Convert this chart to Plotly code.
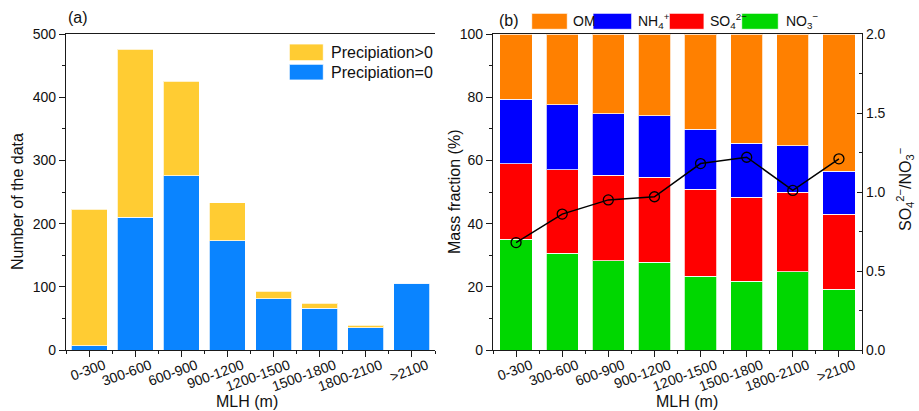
import numpy as np
import plotly.graph_objects as go

# ---------------- data ----------------
categories = ["0-300", "300-600", "600-900", "900-1200", "1200-1500", "1500-1800", "1800-2100", ">2100"]

# panel (a): number of data
count_precip_zero = [7, 210, 276, 173, 81, 66, 35, 106]
count_precip_pos = [216, 266, 149, 60, 12, 8, 4, 0]

# panel (b): mass fraction (%)
frac_no3 = [35.0, 30.6, 28.2, 27.7, 23.3, 21.8, 24.8, 19.3]
frac_so4 = [24.0, 26.4, 27.1, 26.9, 27.5, 26.5, 25.1, 23.7]
frac_nh4 = [20.4, 20.6, 19.5, 19.5, 19.0, 17.1, 14.8, 13.5]
frac_om = [20.6, 22.4, 25.2, 25.9, 30.2, 34.6, 35.3, 43.5]
ratio_so4_no3 = [0.68, 0.86, 0.95, 0.97, 1.18, 1.22, 1.01, 1.21]

yticks_a = [0, 100, 200, 300, 400, 500]
yticks_b = [0, 20, 40, 60, 80, 100]
yticks_b2 = [0.0, 0.5, 1.0, 1.5, 2.0]

# ---------------- style ----------------
W, H = 919, 411
FONT = "Liberation Sans, Arial, sans-serif"
AX = "#1a1a1a"
C_YEL = "#FFCC33"
C_LBLUE = "#0A84FF"
C_OM = "#FF8000"
C_NH4 = "#0000FF"
C_SO4 = "#FF0000"
C_NO3 = "#00D700"
OUTLINE = dict(color="rgba(255,255,255,0.75)", width=1)

pos = np.arange(len(categories))
bounds = np.arange(len(categories) + 1) - 0.5


def px_x(x):
    return x / W


def px_y(y):
    return 1 - y / H


xa_dom = [px_x(66), px_x(435)]
xb_dom = [px_x(493), px_x(862)]
y_dom = [px_y(350), px_y(34)]

fig = go.Figure()

# panel (a)
fig.add_trace(go.Bar(x=pos, y=count_precip_zero, name="Precipiation=0", marker=dict(color=C_LBLUE, line=OUTLINE),
                     width=0.78, xaxis="x", yaxis="y", showlegend=False))
fig.add_trace(go.Bar(x=pos, y=count_precip_pos, name="Precipiation>0", marker=dict(color=C_YEL, line=OUTLINE),
                     width=0.78, xaxis="x", yaxis="y", showlegend=False))

# panel (b)
for vals, nm, col in [(frac_no3, "NO3-", C_NO3), (frac_so4, "SO42-", C_SO4),
                      (frac_nh4, "NH4+", C_NH4), (frac_om, "OM", C_OM)]:
    fig.add_trace(go.Bar(x=pos, y=vals, name=nm, marker=dict(color=col, line=OUTLINE),
                         width=0.7, xaxis="x2", yaxis="y2", showlegend=False))

fig.add_trace(go.Scatter(x=pos, y=ratio_so4_no3, mode="lines+markers", name="SO42-/NO3-",
                         line=dict(color="black", width=1.5),
                         marker=dict(symbol="circle-open", size=10, color="black", line=dict(width=1.3)),
                         xaxis="x2", yaxis="y4", showlegend=False))

tickfont = dict(family=FONT, size=14, color="#111")
titlefont = dict(family=FONT, size=16, color="#111")

xcommon = dict(range=[-0.5, 7.5], tickmode="array", tickvals=pos, ticktext=categories, tickangle=-20,
               ticklabelshift=15, ticklabelstandoff=-5,
               ticks="outside", ticklen=6, tickwidth=1.3, tickcolor=AX, showline=True, linecolor=AX,
               linewidth=1.3, mirror=True, showgrid=False, zeroline=False, tickfont=tickfont, automargin=False,
               minor=dict(tickmode="array", tickvals=bounds, ticks="outside", ticklen=3, tickcolor=AX, tickwidth=1.3))

ycommon = dict(ticks="outside", ticklen=6, tickwidth=1.3, tickcolor=AX, showline=True, linecolor=AX,
               linewidth=1.3, showgrid=False, zeroline=False, tickfont=tickfont, automargin=False)
yright = dict(ticks="inside", ticklen=5, tickwidth=1.3, tickcolor=AX, showline=True, linecolor=AX,
              linewidth=1.3, showgrid=False, zeroline=False, automargin=False)

fig.update_layout(
    template="none",
    width=W, height=H, margin=dict(l=0, r=0, t=0, b=0, pad=0), autosize=False,
    paper_bgcolor="white", plot_bgcolor="white",
    barmode="stack", showlegend=False,
    font=dict(family=FONT, color="#111"),
    xaxis=dict(domain=xa_dom, anchor="y", **xcommon),
    xaxis2=dict(domain=xb_dom, anchor="y2", **xcommon),
    yaxis=dict(domain=y_dom, anchor="x", range=[0, 500], tickmode="array", tickvals=yticks_a,
               minor=dict(dtick=50, ticks="outside", ticklen=3, tickcolor=AX, tickwidth=1.3), **ycommon),
    yaxis3=dict(overlaying="y", anchor="x", side="right", range=[0, 500], tickmode="array", tickvals=yticks_a,
                showticklabels=False,
                minor=dict(dtick=50, ticks="inside", ticklen=3, tickcolor=AX, tickwidth=1.3), **yright),
    yaxis2=dict(domain=y_dom, anchor="x2", range=[0, 100], tickmode="array", tickvals=yticks_b,
                minor=dict(dtick=10, ticks="outside", ticklen=3, tickcolor=AX, tickwidth=1.3), **ycommon),
    yaxis4=dict(overlaying="y2", anchor="x2", side="right", range=[0, 2], tickmode="array", tickvals=yticks_b2,
                ticktext=[f"{v:.1f}" for v in yticks_b2], tickfont=tickfont,
                minor=dict(dtick=0.25, ticks="inside", ticklen=3, tickcolor=AX, tickwidth=1.3), **yright),
)

shapes = []
annotations = []


def label(text, x, y, font, angle=0, xanchor="center"):
    annotations.append(dict(text=text, x=px_x(x), y=px_y(y), xref="paper", yref="paper", textangle=angle,
                            xanchor=xanchor, yanchor="middle", showarrow=False, font=font))


# axis titles
label("MLH (m)", 247, 401, titlefont)
label("MLH (m)", 687, 401, titlefont)
label("Number of the data", 17, 202, titlefont, angle=-90)
label("Mass fraction (%)", 454, 192, titlefont, angle=-90)
label("SO<sub>4</sub><sup>2−</sup>/NO<sub>3</sub><sup>−</sup>", 905, 190, titlefont, angle=-90)

# panel labels
label("(a)", 66, 18, titlefont, xanchor="left")
label("(b)", 497, 20, titlefont, xanchor="left")

# legend (a)
leg_a = [("Precipiation>0", C_YEL, 44, 60.7), ("Precipiation=0", C_LBLUE, 64.3, 80)]
for txt, col, y0, y1 in leg_a:
    shapes.append(dict(type="rect", xref="paper", yref="paper", x0=px_x(289.3), x1=px_x(323.3),
                       y0=px_y(y1), y1=px_y(y0), fillcolor=col, line=dict(color="rgba(255,255,255,0.8)", width=1)))
    label(txt, 328.5, (y0 + y1) / 2, titlefont, xanchor="left")

# legend (b)
legfont_b = dict(family=FONT, size=14, color="#111")
leg_b = [("OM", C_OM, 531.7, 567.3, 571),
         ("NH<sub>4</sub><sup>+</sup>", C_NH4, 593, 631.7, 636),
         ("SO<sub>4</sub><sup>2−</sup>", C_SO4, 669.3, 704, 707.5),
         ("NO<sub>3</sub><sup>−</sup>", C_NO3, 741.7, 778.3, 784)]
for txt, col, x0, x1, xt in leg_b:
    shapes.append(dict(type="rect", xref="paper", yref="paper", x0=px_x(x0), x1=px_x(x1),
                       y0=px_y(29.3), y1=px_y(13.3), fillcolor=col, line=dict(color="rgba(255,255,255,0.8)", width=1)))
    label(txt, xt, 21.5, legfont_b, xanchor="left")

fig.update_layout(shapes=shapes, annotations=annotations)

fig.write_html("out.html")
